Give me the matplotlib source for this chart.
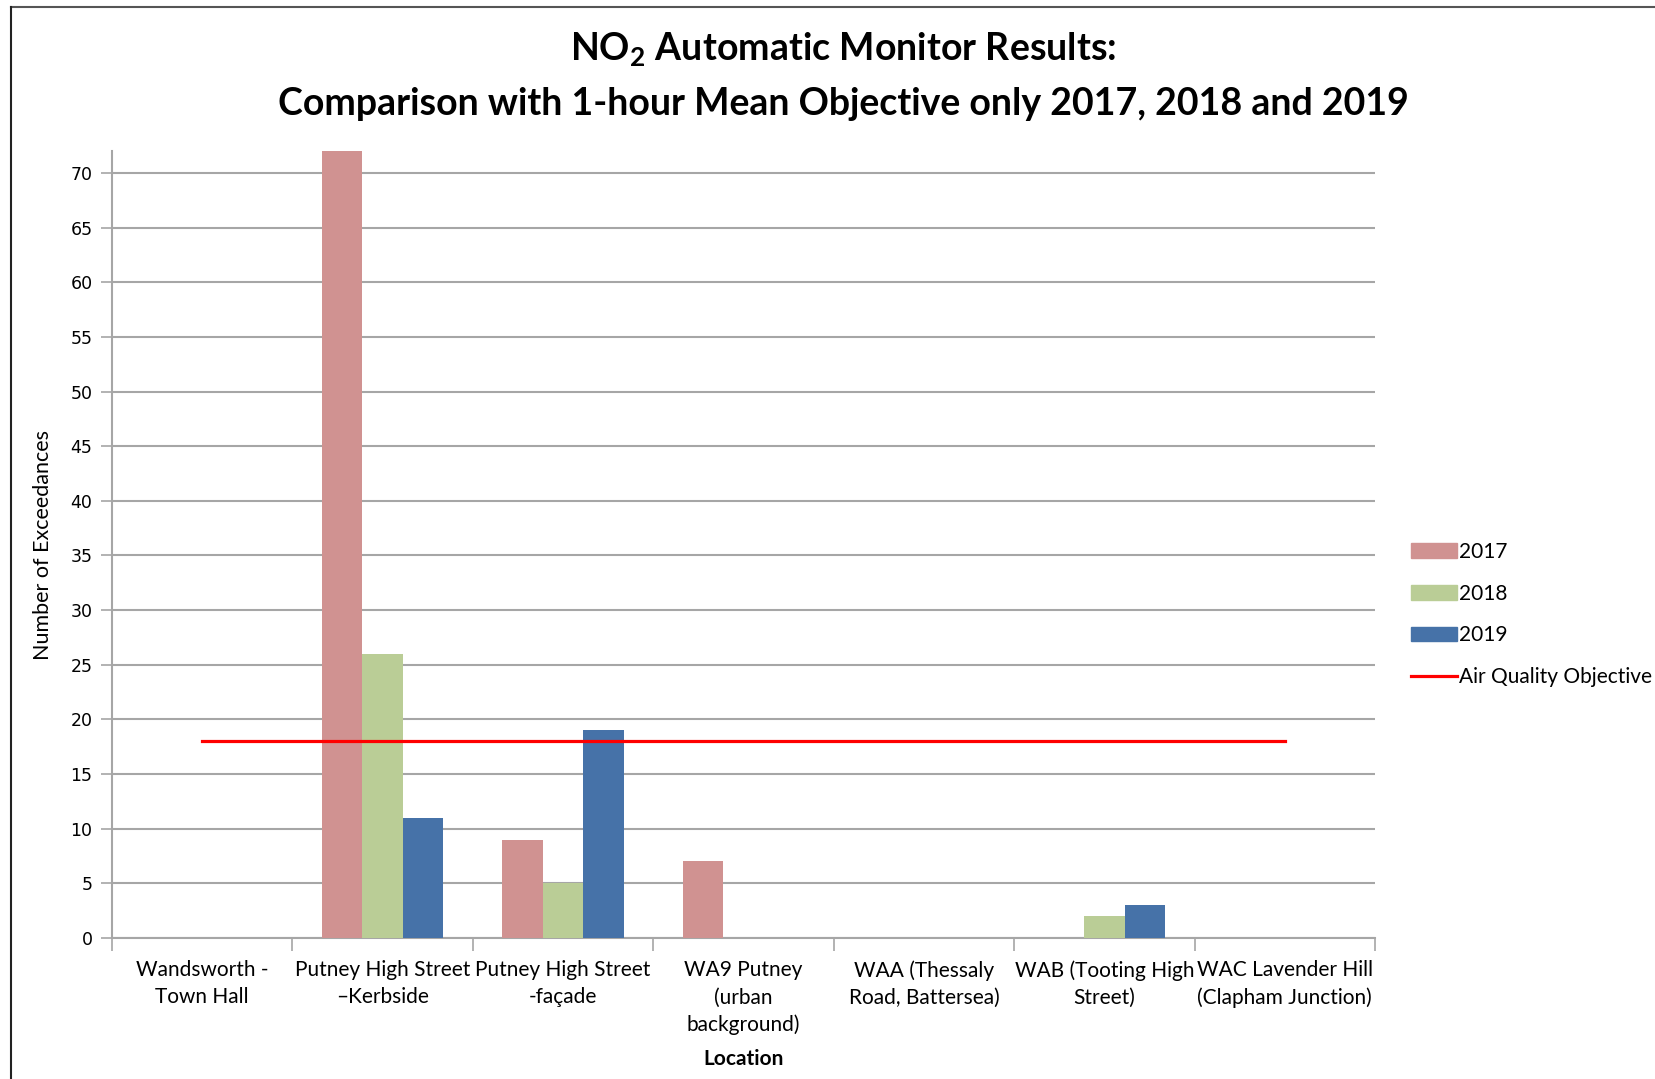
import matplotlib.pyplot as plt
import numpy as np
from matplotlib.lines import Line2D
from matplotlib.patches import Patch

# Exceedances of the 1-hour mean objective per site and year
locations = ['Wandsworth -\nTown Hall', 'Putney High Street\n\u2013Kerbside',
             'Putney High Street\n-fa\u00e7ade', 'WA9 Putney\n(urban\nbackground)',
             'WAA (Thessaly\nRoad, Battersea)', 'WAB (Tooting High\nStreet)',
             'WAC Lavender Hill\n(Clapham Junction)']
years = ['2017', '2018', '2019']
vals_2017 = [0, 72, 9, 7, 0, 0, 0]
vals_2018 = [0, 26, 5, 0, 0, 2, 0]
vals_2019 = [0, 11, 19, 0, 0, 3, 0]
objective = 18
yticks = list(range(0, 75, 5))

colors = ['#D09291', '#BACD96', '#4672A8']
txt_font = ['Lato', 'DejaVu Sans']

fig = plt.figure(figsize=(16.56, 10.79), dpi=100)
ax = fig.add_axes([0.0676, 0.1307, 0.7627, 0.7293])

x = np.arange(len(locations))
w = 0.225
for i, vals in enumerate([vals_2017, vals_2018, vals_2019]):
    ax.bar(x + (i - 1) * w, vals, width=w, color=colors[i], zorder=3)

ax.plot([x[0], x[-1]], [objective, objective], color='#FF0000', lw=2.3, zorder=4)

ax.set_xlim(-0.5, len(locations) - 0.5)
ax.set_ylim(0, 72)
ax.set_yticks(yticks)
ax.yaxis.grid(True, color='#A6A6A6', lw=1.5, zorder=0)
ax.tick_params(axis='y', length=8, width=1.2, color='#A6A6A6', labelsize=12.5, pad=6)
for lab in ax.get_yticklabels():
    lab.set_family('DejaVu Sans')

ax.set_xticks(x)
ax.set_xticklabels(locations, family=txt_font, fontsize=15, linespacing=1.45)
ax.set_xticks(np.arange(-0.5, len(locations)), minor=True)
ax.tick_params(axis='x', which='major', length=0, pad=16)
ax.tick_params(axis='x', which='minor', length=9, width=1.2, color='#A6A6A6')

for s in ['top', 'right']:
    ax.spines[s].set_visible(False)
for s in ['left', 'bottom']:
    ax.spines[s].set_color('#A6A6A6')
    ax.spines[s].set_linewidth(1.5)

ax.set_ylabel('Number of Exceedances', family=txt_font, fontsize=15.5)
ax.yaxis.set_label_coords(-0.047, 0.5)
ax.set_xlabel('Location', family=txt_font, fontsize=15, fontweight='bold')
ax.xaxis.set_label_coords(0.5, -0.141)

fig.text(0.509, 0.954, r'NO$_\mathregular{2}$ Automatic Monitor Results:', ha='center', va='center',
         family=txt_font, fontsize=27, fontweight='bold')
fig.text(0.509, 0.904, 'Comparison with 1-hour Mean Objective only 2017, 2018 and 2019',
         ha='center', va='center', family=txt_font, fontsize=27, fontweight='bold')

handles = [Patch(color=c) for c in colors] + [Line2D([], [], color='#FF0000', lw=2.3)]
fig.legend(handles, years + ['Air Quality Objective'], loc='upper left',
           bbox_to_anchor=(0.852, 0.498), frameon=False, borderpad=0, borderaxespad=0,
           handlelength=2.2, handletextpad=0.12, labelspacing=1.05,
           prop={'family': txt_font, 'size': 15})

# chart area border
fig.add_artist(Line2D([0.0066, 1.0], [0.9939, 0.9939], color='#555555', lw=1.5))
fig.add_artist(Line2D([0.0066, 0.0066], [0.0, 0.9939], color='#222222', lw=1.5))

fig.savefig('out.png', dpi=100)
